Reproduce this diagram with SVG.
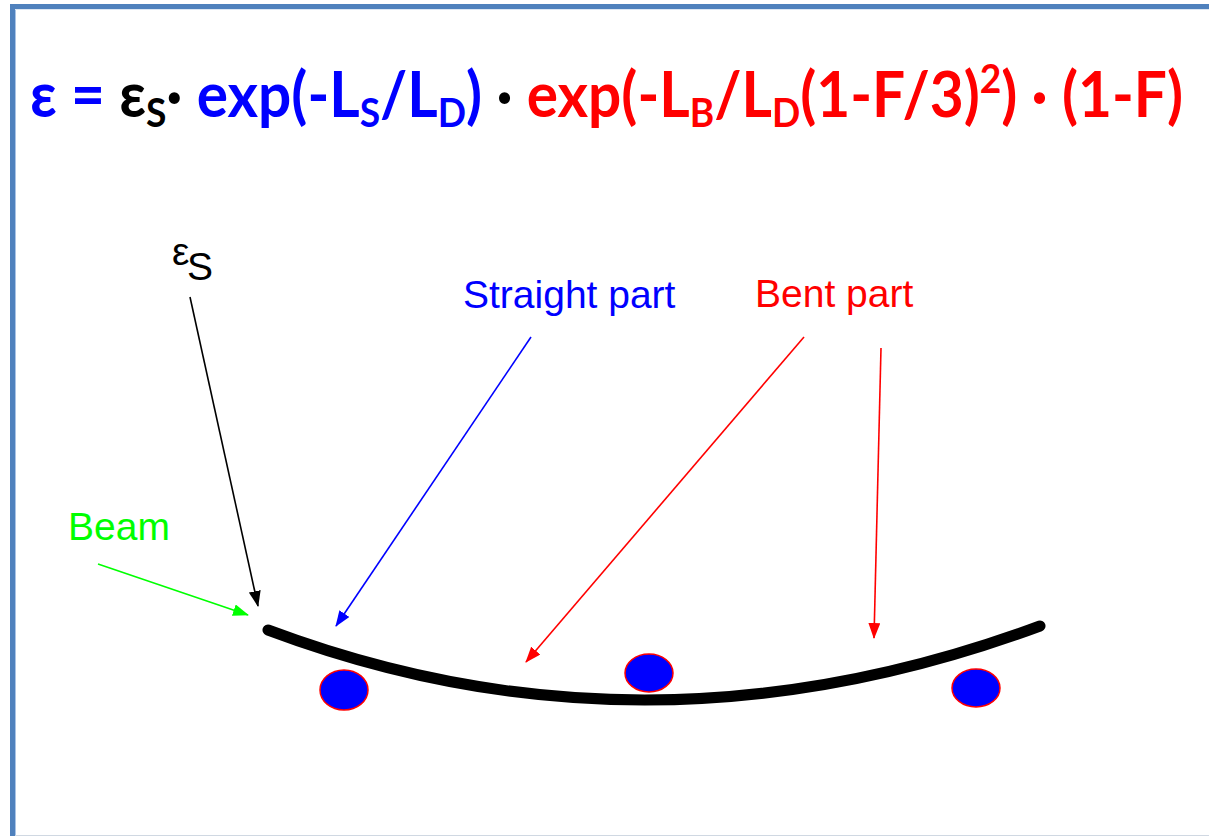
<svg xmlns="http://www.w3.org/2000/svg" width="1209" height="836" viewBox="0 0 1209 836">
<style>
.f{font-family:Lato,"Liberation Sans",sans-serif;font-weight:bold;font-size:63px}
.lbl{font-family:"Liberation Sans",Arial,sans-serif;font-size:39px}
.b{fill:#0000ff}.r{fill:#ff0000}.k{fill:#000000}.g{fill:#00ff00}
.conn{fill:none;stroke-width:1.6}
.dot{fill:#0000ff;stroke:#ff0000;stroke-width:1.5}
</style>
<defs>
<marker id="ak" markerWidth="16" markerHeight="12" refX="15" refY="6" orient="auto" markerUnits="userSpaceOnUse"><path d="M0,0 L16,6 L0,12 Z" fill="#000"/></marker>
<marker id="ab" markerWidth="16" markerHeight="12" refX="15" refY="6" orient="auto" markerUnits="userSpaceOnUse"><path d="M0,0 L16,6 L0,12 Z" fill="#0000ff"/></marker>
<marker id="ar" markerWidth="16" markerHeight="12" refX="15" refY="6" orient="auto" markerUnits="userSpaceOnUse"><path d="M0,0 L16,6 L0,12 Z" fill="#ff0000"/></marker>
<marker id="ag" markerWidth="16" markerHeight="12" refX="15" refY="6" orient="auto" markerUnits="userSpaceOnUse"><path d="M0,0 L16,6 L0,12 Z" fill="#00ff00"/></marker>
</defs>
<rect x="0" y="0" width="1209" height="836" fill="#ffffff"/>
<g id="frame">
<line x1="12.5" y1="4" x2="12.5" y2="836" stroke="#4f81bd" stroke-width="5"/>
<line x1="10" y1="6.5" x2="1209" y2="6.5" stroke="#4f81bd" stroke-width="5"/>
<line x1="15.5" y1="9" x2="15.5" y2="836" stroke="#a9c4e6" stroke-width="1"/>
<line x1="15" y1="9.5" x2="1209" y2="9.5" stroke="#dbe6f3" stroke-width="1"/>
<line x1="15" y1="835.5" x2="1209" y2="835.5" stroke="#d0d8e2" stroke-width="1"/>
</g>
<g id="formula">
<text class="f" x="30" y="117" textLength="1153" lengthAdjust="spacingAndGlyphs"><tspan class="b">ε = </tspan><tspan class="k">ε</tspan><tspan class="k" font-size="40" dy="10">S</tspan><tspan class="k" dy="-10">· </tspan><tspan class="b">exp(-L</tspan><tspan class="b" font-size="40" dy="10">S</tspan><tspan class="b" dy="-10">/L</tspan><tspan class="b" font-size="40" dy="10">D</tspan><tspan class="b" dy="-10">) </tspan><tspan class="k">· </tspan><tspan class="r">exp(-L</tspan><tspan class="r" font-size="40" dy="10">B</tspan><tspan class="r" dy="-10">/L</tspan><tspan class="r" font-size="40" dy="10">D</tspan><tspan class="r" dy="-10">(1-F/3)</tspan><tspan class="r" font-size="40" dy="-24">2</tspan><tspan class="r" dy="24">) · (1-F)</tspan></text>
</g>
<g id="label-eps">
<text class="lbl k" x="172" y="265" font-size="26">ε</text>
<text class="lbl k" x="187" y="280" font-size="30">S</text>
</g>
<g id="label-straight"><text class="lbl b" x="463" y="308">Straight part</text></g>
<g id="label-bent"><text class="lbl r" x="755" y="307">Bent part</text></g>
<g id="label-beam"><text class="lbl g" x="68" y="540" font-size="40">Beam</text></g>
<g id="beam">
<path d="M268,630 Q646,772 1040,626" fill="none" stroke="#000" stroke-width="11" stroke-linecap="round"/>
</g>
<g id="supports">
<ellipse id="s1" class="dot" cx="344" cy="690" rx="24" ry="20"/>
<ellipse id="s2" class="dot" cx="649" cy="673" rx="24" ry="19"/>
<ellipse id="s3" class="dot" cx="976" cy="688" rx="24" ry="19"/>
</g>
<g id="connectors">
<line class="conn" x1="190" y1="297" x2="258" y2="606" stroke="#000" marker-end="url(#ak)"/>
<line class="conn" x1="98" y1="564" x2="248" y2="615" stroke="#00ff00" marker-end="url(#ag)"/>
<line class="conn" x1="531" y1="337" x2="336" y2="626" stroke="#0000ff" marker-end="url(#ab)"/>
<line class="conn" x1="804" y1="337" x2="526" y2="662" stroke="#ff0000" marker-end="url(#ar)"/>
<line class="conn" x1="881" y1="348" x2="874" y2="638" stroke="#ff0000" marker-end="url(#ar)"/>
</g>
</svg>
